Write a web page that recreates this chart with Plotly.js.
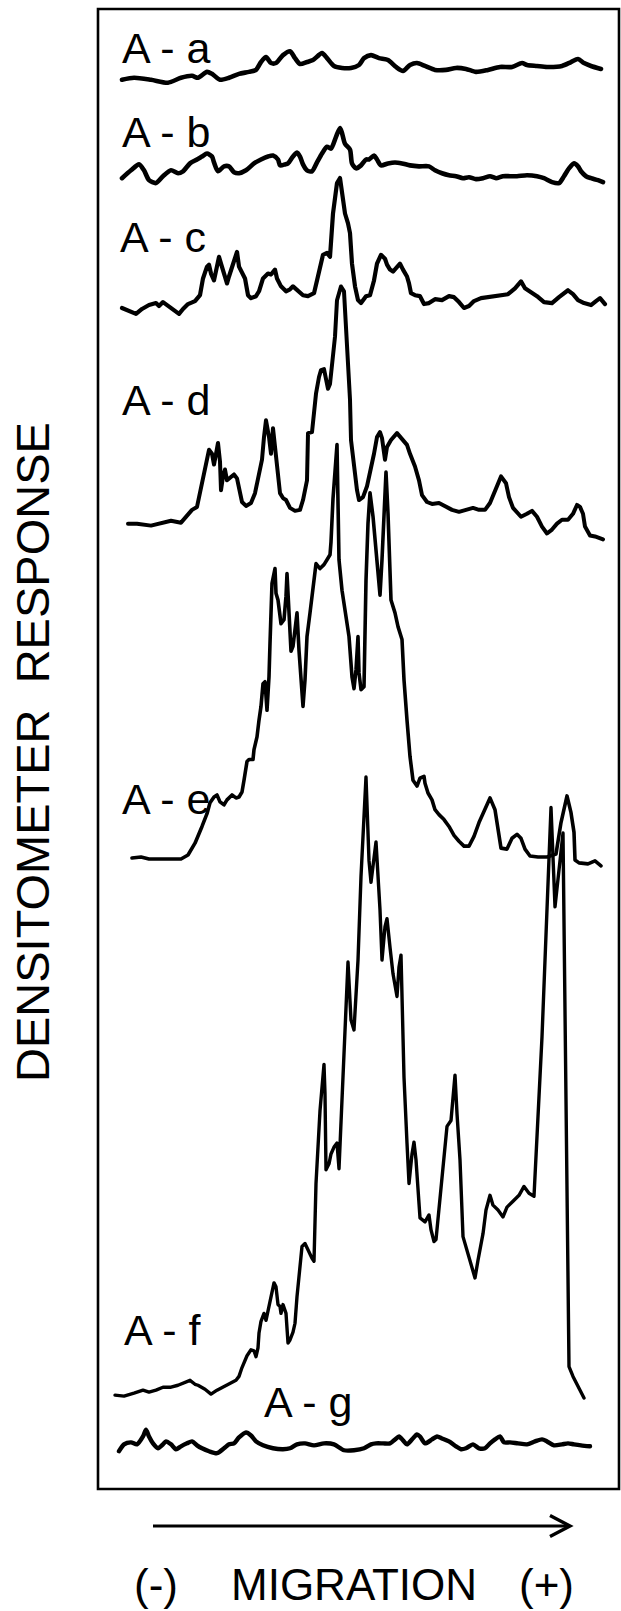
<!DOCTYPE html>
<html><head><meta charset="utf-8">
<script src="https://cdn.plot.ly/plotly-3.0.1.min.js"></script>
<style>
html,body{margin:0;padding:0;background:#fff;}
#chart{width:621px;height:1611px;}
.js-line{stroke-linejoin:round;stroke-linecap:round;}
</style>
</head><body><div id="chart"></div>
<script>
// ---------------- DATA (migration distance, densitometer response) ----------------
const sampleNames = ['A - a','A - b','A - c','A - d','A - e','A - f','A - g'];

const aMig = [25,37,54,71,84,95,101,110,115,123,132,142,152,159,164,169,174,179,186,193,198,203,210,216,225,230,237,245,254,262,267,274,282,291,299,306,313,320,328,338,349,359,369,379,391,403,415,425,430,440,450,465,474,481,487,494,504];
const aResp = [3,5,3,0,5,7,5,11,9,3,5,9,11,13,21,26,20,20,28,32,25,19,21,23,30,25,17,15,15,18,25,28,25,23,16,12,18,20,17,13,13,15,14,11,13,16,16,20,18,17,16,17,21,24,20,17,14];

const bMig = [25,34,42,47,52,59,66,74,81,86,93,100,105,110,115,117,121,127,132,137,142,149,157,164,171,176,181,183,188,191,196,200,203,206,210,215,220,225,230,234,239,243,245,248,253,255,259,264,269,272,277,280,284,291,298,305,313,322,332,338,345,352,359,366,372,379,386,393,399,406,413,420,430,440,447,455,462,467,472,477,481,484,489,494,501,506];
const bResp = [5,13,19,13,3,0,7,13,10,12,20,24,27,30,27,21,12,17,17,11,10,13,20,24,27,28,24,18,19,20,27,31,27,19,13,12,21,30,37,35,47,56,51,40,34,20,15,18,24,24,28,24,18,20,21,20,18,17,17,13,10,8,7,5,6,4,5,7,5,7,7,7,8,7,5,1,0,7,15,20,17,12,7,5,3,1];

const cMig = [25,32,39,45,52,59,62,66,73,78,82,86,91,98,103,106,110,112,114,117,119,122,124,127,130,132,136,140,142,145,148,151,154,159,162,166,171,174,178,180,184,189,193,196,201,206,211,217,220,223,226,230,233,236,238,240,243,245,248,251,253,255,258,261,264,269,273,277,280,284,288,290,293,296,300,303,306,310,312,314,318,323,327,332,338,345,352,357,362,367,372,377,384,391,398,404,411,418,424,428,433,440,447,455,462,467,471,476,481,487,494,499,503,508];
const cResp = [6,3,0,5,9,11,8,12,7,3,0,5,10,13,19,36,48,50,41,34,46,58,51,39,31,38,50,63,48,41,36,19,16,18,23,36,41,40,45,36,28,23,25,28,24,19,18,21,34,46,60,62,58,102,121,133,138,123,102,92,82,51,28,14,11,18,19,34,51,60,56,50,45,43,48,51,45,38,31,21,19,18,10,11,15,14,18,17,12,6,8,13,16,17,18,18,20,26,33,26,23,18,12,11,17,21,24,20,14,11,9,13,16,10];

const dMig = [31,40,54,64,74,84,90,95,100,103,106,109,112,115,117,119,121,123,124,126,128,130,134,137,140,142,145,149,154,158,162,165,167,169,172,174,176,178,180,183,186,189,193,198,203,206,210,211,215,217,219,222,224,227,229,231,233,236,238,240,244,247,249,251,253,254,257,260,262,266,270,273,277,280,283,285,288,290,294,300,303,306,310,313,318,322,325,330,335,342,349,355,362,369,376,382,388,393,399,404,409,412,416,420,424,430,435,440,445,450,455,460,465,471,476,480,483,486,488,493,498,506];
const dResp = [16,16,14,17,19,17,25,30,33,47,62,76,91,87,76,87,98,79,50,64,71,60,63,66,62,50,38,34,37,47,64,81,104,121,104,87,113,94,74,47,42,40,32,29,30,40,60,108,109,128,148,165,172,173,162,153,158,182,206,243,257,252,213,182,142,101,74,50,40,43,54,67,87,104,109,103,81,94,101,108,104,101,96,87,74,60,45,38,36,37,33,30,28,30,32,30,30,37,52,64,57,43,32,28,23,26,29,23,13,6,10,16,20,20,26,35,33,26,13,4,3,0];

const eMig = [35,44,52,61,71,84,91,98,105,110,113,117,120,123,127,130,135,139,142,145,147,150,152,156,157,160,162,164,166,168,170,172,173,175,178,179,181,184,187,189,190,192,194,196,197,200,202,205,206,208,210,213,217,219,223,227,230,233,234,236,240,242,245,249,252,255,257,259,261,262,264,267,269,271,273,276,278,281,283,285,287,289,291,293,294,298,301,305,307,310,313,316,320,323,327,328,331,335,338,342,347,352,357,362,367,372,377,382,388,393,398,401,404,410,415,420,424,428,433,441,450,459,464,470,474,477,478,482,491,498,504];
const eResp = [4,5,3,3,3,3,7,19,36,49,60,66,68,61,58,63,68,65,66,71,83,102,104,104,114,127,144,158,181,183,154,188,222,283,298,273,266,242,246,270,293,253,214,219,226,253,215,171,158,185,229,253,286,303,298,302,307,312,325,369,424,307,276,249,229,188,176,195,229,192,175,178,286,344,375,351,327,293,271,307,358,396,354,303,266,253,239,226,185,144,107,83,77,85,87,80,70,63,53,48,43,36,27,21,16,16,26,40,53,65,53,31,14,13,24,28,24,13,6,5,5,8,40,67,50,30,2,-1,-2,1,-4];

const fMig = [18,27,37,46,52,59,66,74,81,88,93,98,101,108,114,120,127,134,139,142,145,150,154,157,159,161,162,164,167,169,172,174,177,179,181,183,184,186,189,191,193,196,198,200,202,205,208,211,215,217,218,219,223,227,228,229,232,234,237,240,242,247,251,254,257,261,264,269,272,274,277,279,283,285,288,290,293,296,300,302,304,305,307,310,312,315,317,319,321,323,328,332,334,337,339,342,345,350,354,358,360,363,366,370,374,378,381,386,389,393,396,401,406,410,416,422,427,432,437,445,454,458,466,472,476,481,487];
const fResp = [0,-1,2,5,3,5,8,8,10,13,15,11,10,6,1,5,9,13,15,19,28,40,46,45,39,48,63,75,83,76,90,100,114,110,92,90,83,92,83,53,56,64,73,100,124,151,154,147,139,136,171,215,289,336,306,229,235,245,252,256,230,340,440,381,371,442,527,628,543,521,547,562,493,442,476,484,455,428,405,435,447,408,323,256,215,245,257,239,205,180,176,183,168,156,158,188,222,273,279,325,286,239,161,147,132,119,137,164,188,203,193,188,181,191,197,203,212,205,202,364,597,496,571,29,19,9,-3];

const gMig = [22,27,34,40,46,49,52,56,61,66,69,74,79,84,90,95,100,105,112,120,127,132,137,142,149,154,159,166,176,186,193,200,208,217,227,237,247,257,267,274,279,286,293,298,302,306,310,315,320,323,328,335,340,345,352,359,364,369,376,382,388,393,398,403,407,413,421,430,438,445,450,457,465,471,477,484,493];
const gResp = [2,9,11,9,17,24,17,10,5,9,12,9,4,7,10,12,8,5,2,0,5,9,10,16,21,18,12,8,5,4,5,9,10,8,10,9,3,3,5,9,10,10,10,14,17,13,9,14,19,17,10,14,17,15,12,7,4,5,9,5,5,10,14,17,11,11,10,9,12,14,12,8,9,10,9,8,7];

const axisTitleY = 'DENSITOMETER\u00a0\u00a0RESPONSE';
const axisTitleX = ['(-)', 'MIGRATION', '(+)'];

// ---------------- LAYOUT / STYLE ----------------
const W = 621, H = 1611;
const px = x => x / W;
const py = y => 1 - y / H;
const gain = 0.9843;           // pixels per response unit
const xOffset = 97;            // frame left edge in pixels

const series = [
  {mig:aMig, resp:aResp, base:82.7,  lw:4.6, shape:'spline', lab:[120,47.5]},
  {mig:bMig, resp:bResp, base:183.1, lw:4.6, shape:'spline', lab:[120,132.5]},
  {mig:cMig, resp:cResp, base:313.9, lw:4.2, shape:'linear', lab:[118,236.7]},
  {mig:dMig, resp:dResp, base:539.4, lw:4.0, shape:'linear', lab:[120,400]},
  {mig:eMig, resp:eResp, base:861.9, lw:3.6, shape:'linear', lab:[120,799]},
  {mig:fMig, resp:fResp, base:1395.1,lw:3.4, shape:'linear', lab:[122,1330]},
  {mig:gMig, resp:gResp, base:1453.2,lw:4.4, shape:'spline', lab:[262,1401.7]}
];

const FONT = 'Liberation Sans, Arial, Helvetica, sans-serif';
const traces = [];
const layout = {
  width: W, height: H,
  margin: {l:0, r:0, t:0, b:0},
  paper_bgcolor: '#fff', plot_bgcolor: 'rgba(0,0,0,0)',
  showlegend: false,
  xaxis: {domain:[0,1], range:[-xOffset, W - xOffset], visible:false, fixedrange:true},
  shapes: [], annotations: []
};

series.forEach((s, i) => {
  const ax = i === 0 ? 'y' : 'y' + (i + 1);
  const key = i === 0 ? 'yaxis' : 'yaxis' + (i + 1);
  layout[key] = {
    domain: [0, 1],
    range: [(s.base - H) / gain, s.base / gain],
    visible: false, fixedrange: true
  };
  if (i > 0) layout[key].overlaying = 'y';
  traces.push({
    type: 'scatter', mode: 'lines', x: s.mig, y: s.resp, yaxis: ax, name: sampleNames[i],
    line: {color: '#000', width: s.lw, shape: s.shape, smoothing: 0.7},
    hoverinfo: 'skip'
  });
  layout.annotations.push({
    xref:'paper', yref:'paper', x: px(s.lab[0]), y: py(s.lab[1]),
    xanchor:'left', yanchor:'middle', showarrow:false,
    text: sampleNames[i], font:{family:FONT, size:43, color:'#000'}
  });
});

// frame
layout.shapes.push({type:'rect', xref:'paper', yref:'paper',
  x0: px(98), x1: px(619), y0: py(9), y1: py(1489),
  line:{color:'#000', width:2.6}});
// migration arrow
layout.shapes.push({type:'line', xref:'paper', yref:'paper',
  x0: px(153), x1: px(569), y0: py(1526), y1: py(1526),
  line:{color:'#000', width:3.2}});
layout.shapes.push({type:'path', xref:'paper', yref:'paper',
  path: `M ${px(550)} ${py(1515.5)} L ${px(570)} ${py(1526)} L ${px(550)} ${py(1536.5)}`,
  line:{color:'#000', width:3.4}});

// axis titles
layout.annotations.push({xref:'paper', yref:'paper', x: px(32.5), y: py(752.5),
  xanchor:'center', yanchor:'middle', textangle:-90, showarrow:false,
  text: axisTitleY, font:{family:FONT, size:47, color:'#000'}});
const xt = [156, 353.5, 546.5];
axisTitleX.forEach((t, i) => layout.annotations.push({xref:'paper', yref:'paper',
  x: px(xt[i]), y: py(1584), xanchor:'center', yanchor:'middle', showarrow:false,
  text: t, font:{family:FONT, size:44, color:'#000'}}));

Plotly.newPlot('chart', traces, layout, {displayModeBar:false, staticPlot:true});
</script>
</body></html>
